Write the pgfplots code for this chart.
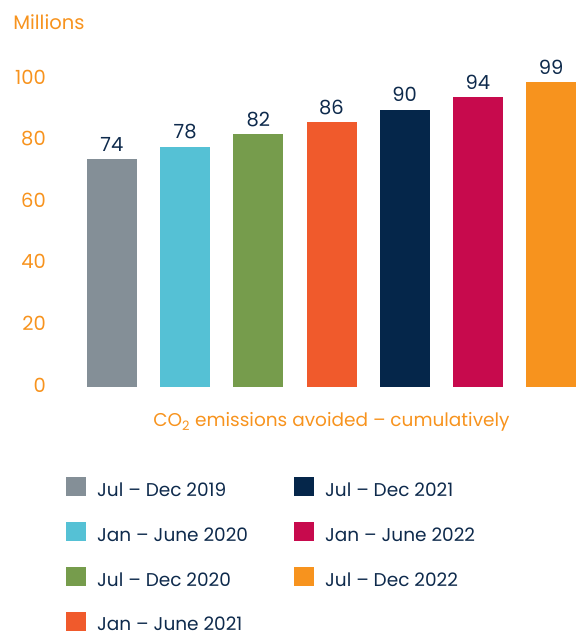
\documentclass[border=0pt]{standalone}
\usepackage{fontspec}
\setmainfont{Poppins}
\usepackage{pgfplots}
\pgfplotsset{compat=1.18}

\definecolor{cgrey}{HTML}{848F97}
\definecolor{ccyan}{HTML}{55C1D5}
\definecolor{cgreen}{HTML}{769C4C}
\definecolor{cred}{HTML}{F05A2C}
\definecolor{cnavy}{HTML}{05264A}
\definecolor{ccrimson}{HTML}{C70A4D}
\definecolor{corange}{HTML}{F7931E}
\definecolor{axisorange}{HTML}{F7931E}
\definecolor{labelnavy}{HTML}{0E2A4C}

\newcommand{\chartfont}{\fontsize{19.5}{23}\selectfont}
\newcommand{\legendfont}{\fontsize{18.5}{22}\selectfont}

\begin{document}
\chartfont
\begin{tikzpicture}
\useasboundingbox (0,0) rectangle (577pt,-636pt);
\begin{axis}[
  at={(87pt,-387pt)}, anchor=south west,
  scale only axis, width=489pt, height=308pt,
  xmin=-0.34, xmax=6.34, ymin=0, ymax=100,
  ybar, bar width=50pt, bar shift=0pt,
  axis line style={draw=none}, major tick length=0pt,
  xtick=\empty, ytick={0,20,...,100},
  /pgf/number format/assume math mode=true,
  yticklabel style={text=axisorange, font=\chartfont, anchor=east,
    inner sep=0pt, xshift=-41pt, yshift=2pt},
  nodes near coords,
  every node near coord/.append style={text=labelnavy, font=\chartfont,
    anchor=center, yshift=15pt},
  clip=false,
  legend columns=2,
  legend cell align=left,
  legend image code/.code={\fill[#1] (0pt,-5pt) rectangle (20pt,14pt);},
  legend style={draw=none, fill=none, inner sep=0pt,
    at={(axis description cs:-0.043,-0.292)}, anchor=north west,
    row sep=22.5pt,
    nodes={text=labelnavy, font=\legendfont, inner sep=0pt},
    /tikz/every odd column/.append style={column sep=11pt},
    /tikz/every even column/.append style={column sep=46pt}},
]
% plotted in legend order (filled row by row, two columns)
\addplot[fill=cgrey, draw=none] coordinates {(0,74)};
\addlegendentry{Jul -- Dec 2019}
\addplot[fill=cnavy, draw=none] coordinates {(4,90)};
\addlegendentry{Jul -- Dec 2021}
\addplot[fill=ccyan, draw=none] coordinates {(1,78)};
\addlegendentry{Jan -- June 2020}
\addplot[fill=ccrimson, draw=none] coordinates {(5,94)};
\addlegendentry{Jan -- June 2022}
\addplot[fill=cgreen, draw=none] coordinates {(2,82)};
\addlegendentry{Jul -- Dec 2020}
\addplot[fill=corange, draw=none] coordinates {(6,99)};
\addlegendentry{Jul -- Dec 2022}
\addplot[fill=cred, draw=none] coordinates {(3,86)};
\addlegendentry{Jan -- June 2021}

\node[anchor=west, inner sep=0pt, text=axisorange]
  at (axis description cs:-0.151,1.185) {Millions};
\node[inner sep=0pt, text=axisorange, font=\legendfont]
  at (axis description cs:0.5,-0.114) {CO\textsubscript{2} emissions avoided -- cumulatively};
\end{axis}
\end{tikzpicture}
\end{document}
